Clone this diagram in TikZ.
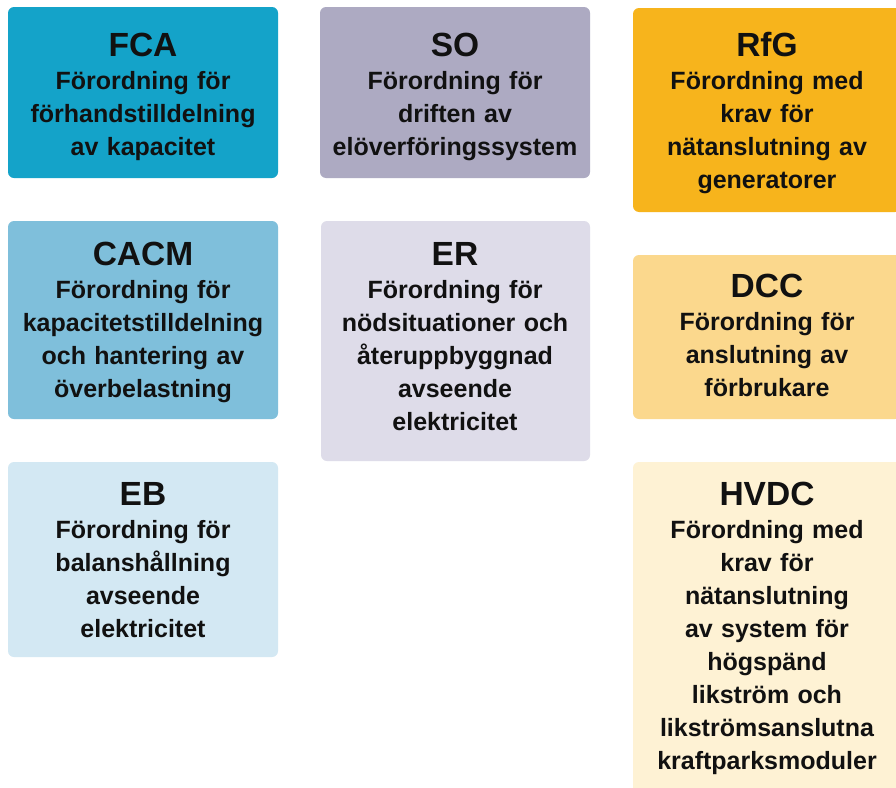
\documentclass[tikz,border=0pt]{standalone}
\usepackage{fontspec}
\setmainfont{Liberation Sans}
\definecolor{cFCA}{HTML}{14A3C9}
\definecolor{cSO}{HTML}{ADAAC2}
\definecolor{cRfG}{HTML}{F7B41C}
\definecolor{cCACM}{HTML}{7FBFDB}
\definecolor{cER}{HTML}{DEDCE9}
\definecolor{cDCC}{HTML}{FBD88D}
\definecolor{cEB}{HTML}{D3E8F3}
\definecolor{cHVDC}{HTML}{FEF2D4}
\definecolor{ink}{HTML}{111111}
\tikzset{
  regbox/.style={draw=none, rounded corners=6pt},
  regtitle/.style={anchor=base, inner sep=0pt, text=ink, font=\bfseries\fontsize{33.5}{33}\selectfont},
  regbody/.style={anchor=base, inner sep=0pt, text=ink, text width=266pt, align=center, font=\bfseries\fontsize{25}{33}\selectfont}
}
\begin{document}
\begin{tikzpicture}[x=1pt,y=-1pt]
\useasboundingbox (0,0) rectangle (896,787);
\clip (0,0) rectangle (896,787);
\fill[white] (0,0) rectangle (896,787);
% column 1
\fill[regbox, cFCA] (8,7) rectangle (278,178);
\node[regtitle] (fcat) at (143,56) {FCA};
\node[regbody] (fcab) at (143,89) {Förordning för\\förhandstilldelning\\av kapacitet};
\fill[regbox, cCACM] (8,221) rectangle (278,419);
\node[regtitle] (cacmt) at (143,265) {CACM};
\node[regbody] (cacmb) at (143,298) {Förordning för\\kapacitetstilldelning\\och hantering av\\överbelastning};
\fill[regbox, cEB] (8,462) rectangle (278,657);
\node[regtitle] (ebt) at (143,505) {EB};
\node[regbody] (ebb) at (143,538) {Förordning för\\balanshållning\\avseende\\elektricitet};
% column 2
\fill[regbox, cSO] (320,7) rectangle (590,178);
\node[regtitle] (sot) at (455,56) {SO};
\node[regbody] (sob) at (455,89) {Förordning för\\driften av\\elöverföringssystem};
\fill[regbox, cER] (321,221) rectangle (590,461);
\node[regtitle] (ert) at (455,265) {ER};
\node[regbody] (erb) at (455,298) {Förordning för\\nödsituationer och\\återuppbyggnad\\avseende\\elektricitet};
% column 3
\fill[regbox, cRfG] (633,8) rectangle (901,212);
\node[regtitle] (rfgt) at (767,56) {RfG};
\node[regbody] (rfgb) at (767,89) {Förordning med\\krav för\\nätanslutning av\\generatorer};
\fill[regbox, cDCC] (633,255) rectangle (901,419);
\node[regtitle] (dcct) at (767,297) {DCC};
\node[regbody] (dccb) at (767,330) {Förordning för\\anslutning av\\förbrukare};
\fill[regbox, cHVDC] (633,462) rectangle (901,800);
\node[regtitle] (hvdct) at (767,505) {HVDC};
\node[regbody] (hvdcb) at (767,538) {Förordning med\\krav för\\nätanslutning\\av system för\\högspänd\\likström och\\likströmsanslutna\\kraftparksmoduler};
\end{tikzpicture}
\end{document}
